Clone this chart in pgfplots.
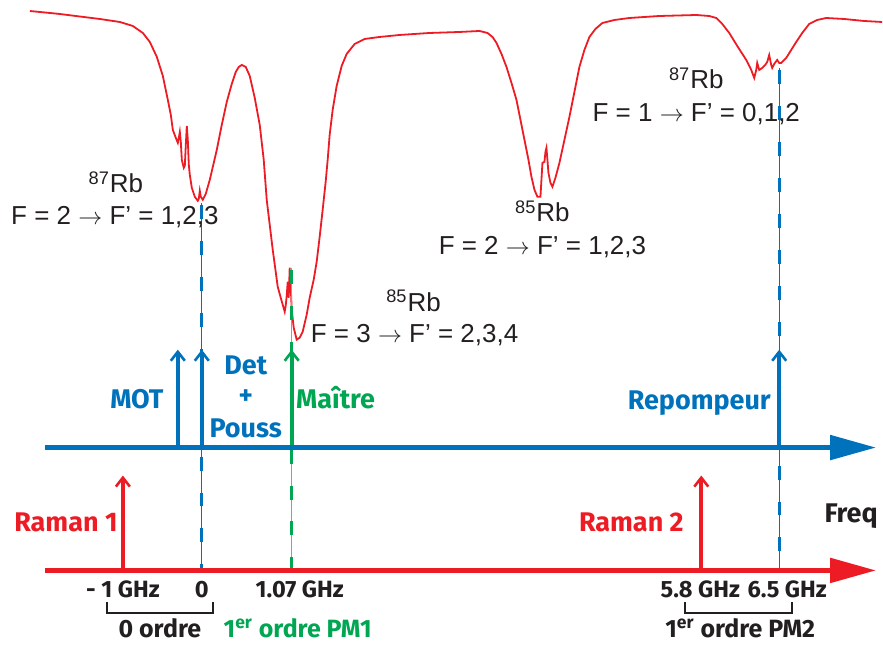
\documentclass[border=0pt]{standalone}
\usepackage{pgfplots}
\pgfplotsset{compat=1.18}
\usetikzlibrary{arrows.meta}
\usepackage{fontspec}
\setmainfont{Liberation Sans}
\newfontfamily\labfont{Fira Sans}
\definecolor{cred}{RGB}{237,28,36}
\definecolor{cblue}{RGB}{0,114,188}
\definecolor{cgreen}{RGB}{0,166,81}
\definecolor{ctext}{RGB}{35,31,32}
\newcommand{\arr}{\ensuremath{\rightarrow}}
\begin{document}
\begin{tikzpicture}[
  rb/.style={font=\fontsize{13}{15}\selectfont, text=ctext, anchor=base, inner sep=0pt},
  lab/.style={font=\fontsize{13.5}{16}\labfont\bfseries, anchor=base, inner sep=0pt},
  tk/.style={font=\fontsize{11.8}{14}\labfont\bfseries, text=ctext, anchor=base, inner sep=0pt},
  ord/.style={font=\fontsize{12.5}{14}\labfont\bfseries, text=ctext, anchor=base, inner sep=0pt},
  varrow/.style={line width=2.2pt, -{Straight Barb[length=4.5pt,width=7pt,line width=1.3pt]}},
  haxis/.style={line width=2.6pt, -{Triangle[length=23pt,width=12pt]}},
]
\begin{axis}[scale only axis, width=441.5pt, height=322.5pt,
  xmin=0, xmax=883, ymin=0, ymax=645, y dir=reverse,
  hide axis, clip=false]
\path (0,0) rectangle (883,645);
% spectrum
\addplot[cred, line width=0.9pt] coordinates {
(30,11) (60,14) (100,19) (120,22) (133,26) (143,33) (150,42) (157,57) (163,76) (168,100)
(171,115) (173,130) (176,138) (178,143) (179,138) (180,132) (181,142) (182,160) (184,168)
(185,166) (186,145) (187,126) (188,140) (189,165) (190,175) (192,188) (195,197) (198,201)
(199,199) (200,191) (201,197) (203,200) (206,194) (210,180) (217,150) (222,125) (227,102)
(232,84) (236,72) (239,67) (242,65) (246,67) (250,76) (255,98) (260,125) (264,160) (267,200)
(270,225) (273,250) (276,272) (278,287) (281,298) (283,305) (285,312) (286,306) (287,296)
(288,282) (289,298) (290,268) (291,285) (292,310) (294,328) (297,340) (300,338) (303,332)
(307,315) (310,298) (314,280) (317,262) (320,237) (323,210) (326,182) (328,160) (330,135)
(333,110) (337,86) (342,66) (347,54) (355,44) (365,39) (380,37) (400,35) (430,33) (460,32)
(480,31) (488,33) (493,37) (497,43) (502,54) (507,67) (512,83) (517,100) (521,120) (525,140)
(529,160) (532,177) (535,190) (538,197) (541,197) (542,180) (543,163) (545,162) (546,152)
(547,148) (548,160) (549,173) (551,183) (553,187) (556,178) (560,163) (565,140) (570,117)
(575,92) (580,67) (585,50) (590,37) (596,29) (603,23) (615,20) (630,18) (660,16) (697,15)
(710,16) (717,18) (723,24) (730,33) (738,46) (747,60) (752,70) (755,78) (757,70) (758,63)
(760,70) (763,68) (766,65) (768,62) (770,55) (772,65) (773,68) (775,64) (778,60) (780,63)
(782,63) (787,58) (792,50) (797,42) (803,33) (810,24) (818,20) (827,18) (845,19) (865,21)
(883,22)};
% dashed guide lines
\addplot[cblue, line width=0.5pt] coordinates {(202,203) (202,571)};
\addplot[cblue, line width=1.7pt, dash pattern=on 7pt off 11pt] coordinates {(202,205) (202,571)};
\addplot[cblue, line width=0.5pt] coordinates {(780,68) (780,571)};
\addplot[cblue, line width=1.7pt, dash pattern=on 7pt off 11pt] coordinates {(780,70) (780,571)};
\addplot[cblue!60, line width=0.5pt] coordinates {(292,268) (292,571)};
\addplot[cgreen, line width=1.7pt, dash pattern=on 7pt off 11pt] coordinates {(292,270) (292,571)};
% vertical arrows
\addplot[cblue, varrow] coordinates {(178,448) (178,350)};
\addplot[cblue, varrow] coordinates {(202,448) (202,350)};
\addplot[cgreen, varrow] coordinates {(292,448) (292,350)};
\addplot[cblue, varrow] coordinates {(780,448) (780,350)};
\addplot[cred, varrow] coordinates {(123,571) (123,476)};
\addplot[cred, varrow] coordinates {(702,571) (702,476)};
% horizontal axes
\addplot[cblue, haxis] coordinates {(45,448) (877,448)};
\addplot[cred, haxis] coordinates {(45,571) (877,571)};
% brackets
\addplot[ctext, line width=1.1pt] coordinates {(107,603) (107,614) (213,614) (213,603)};
\addplot[ctext, line width=1.1pt] coordinates {(686,603) (686,614) (793,614) (793,603)};
% spectral labels
\node[rb] at (116,193) {\textsuperscript{87}Rb};
\node[rb] at (115,225) {F = 2 \arr{} F’ = 1,2,3};
\node[rb] at (414,312) {\textsuperscript{85}Rb};
\node[rb] at (415,343) {F = 3 \arr{} F’ = 2,3,4};
\node[rb] at (543,222) {\textsuperscript{85}Rb};
\node[rb] at (543,255) {F = 2 \arr{} F’ = 1,2,3};
\node[rb] at (697,89) {\textsuperscript{87}Rb};
\node[rb] at (697,122) {F = 1 \arr{} F’ = 0,1,2};
% beam labels
\node[lab, text=cblue] at (137,409) {MOT};
\node[lab, text=cblue] at (246,375) {Det};
\node[lab, text=cblue] at (246,405) {+};
\node[lab, text=cblue] at (246,438) {Pouss};
\node[lab, text=cgreen] at (336,409) {Maître};
\node[lab, text=cblue] at (700,410) {Repompeur};
\node[lab, text=cred] at (66,532) {Raman 1};
\node[lab, text=cred] at (632,532) {Raman 2};
\node[lab, text=ctext] at (852,523) {Freq};
% frequency ticks
\node[tk] at (123,598) {- 1 GHz};
\node[tk] at (202,598) {0};
\node[tk] at (300,598) {1.07 GHz};
\node[tk] at (701,598) {5.8 GHz};
\node[tk] at (788,598) {6.5 GHz};
\node[ord] at (160,638) {0 ordre};
\node[ord, text=cgreen] at (298,638) {1\textsuperscript{er} ordre PM1};
\node[ord] at (741,638) {1\textsuperscript{er} ordre PM2};
\end{axis}
\end{tikzpicture}
\end{document}
